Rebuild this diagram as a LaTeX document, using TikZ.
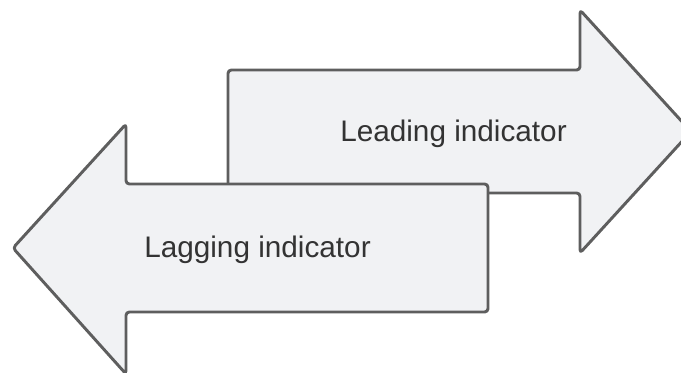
\documentclass[tikz,border=0pt]{standalone}
\usepackage{fontspec}
\setmainfont{Liberation Sans}
\usetikzlibrary{positioning}
\definecolor{arrowline}{HTML}{5E5E5E}
\definecolor{arrowfill}{HTML}{F1F2F4}
\definecolor{labeltext}{HTML}{333333}

\begin{document}
\begin{tikzpicture}[
    x=0.75pt, y=-0.75pt,
    block/.style={draw=arrowline, fill=arrowfill, line width=2.2pt, rounded corners=2.5pt, line join=round},
    label/.style={text=labeltext, font=\fontsize{22.3}{26}\selectfont, anchor=base, inner sep=0pt}
]
    \useasboundingbox (0,0) rectangle (681,372);

    % right-pointing arrow
    \draw[block] (228,70) -- (580,70) -- (580,10) -- (691,131.5) -- (580,253)
        -- (580,193) -- (228,193) -- cycle;
    \node[label] (lead) at (453.5,141.7) {Leading indicator};

    % left-pointing arrow, on top
    \draw[block] (488,184) -- (126,184) -- (126,124) -- (13,248) -- (126,374)
        -- (126,312) -- (488,312) -- cycle;
    \node[label] (lag) at (257.5,257.7) {Lagging indicator};
\end{tikzpicture}
\end{document}
